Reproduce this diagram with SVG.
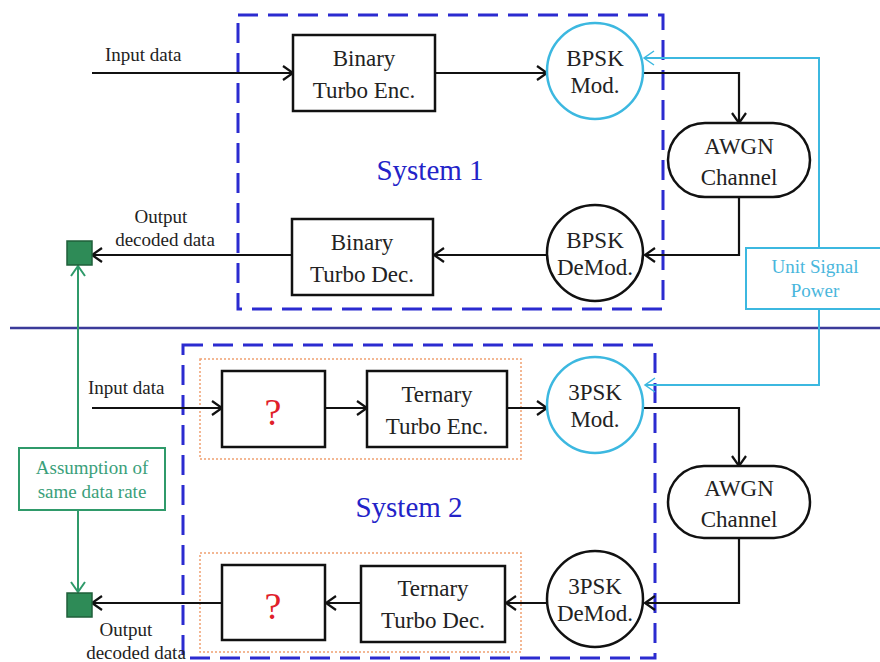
<svg xmlns="http://www.w3.org/2000/svg" width="880" height="662" viewBox="0 0 880 662" font-family="'Liberation Serif', 'Times New Roman', serif">
<defs>
<marker id="ah" markerUnits="userSpaceOnUse" markerWidth="14" markerHeight="16" refX="11" refY="8" orient="auto">
<path d="M1,1 L11,8 L1,15" fill="none" stroke="#111" stroke-width="2.2"/>
</marker>
<marker id="ahc" markerUnits="userSpaceOnUse" markerWidth="14" markerHeight="16" refX="11" refY="8" orient="auto">
<path d="M1,1 L11,8 L1,15" fill="none" stroke="#3cb8e0" stroke-width="1.5"/>
</marker>
<marker id="ahg" markerUnits="userSpaceOnUse" markerWidth="14" markerHeight="16" refX="11" refY="8" orient="auto">
<path d="M1,1 L11,8 L1,15" fill="none" stroke="#2f9a6a" stroke-width="2"/>
</marker>
</defs>
<style>
text{font-family:'Liberation Serif','Times New Roman',serif;fill:#222;}
.n{font-size:23px;text-anchor:middle;}
.s{font-size:19px;}
.sys{font-size:29px;fill:#2323c8;text-anchor:middle;}
.box{fill:#fff;stroke:#111;stroke-width:2.5;}
.circ{fill:#fff;stroke:#111;stroke-width:2.5;}
.circc{fill:#fff;stroke:#3cb8e0;stroke-width:2.5;}
.dash{fill:none;stroke:#2b2bd0;stroke-width:3;stroke-dasharray:20 10;}
.dot{fill:none;stroke:#f0a070;stroke-width:1.5;stroke-dasharray:2 2;}
.line{fill:none;stroke:#111;stroke-width:2.2;}
.cy{fill:none;stroke:#3cb8e0;stroke-width:2;}
.gr{fill:none;stroke:#2f9a6a;stroke-width:2;}
.q{font-size:38px;fill:#e0202a;text-anchor:middle;}
</style>
<rect width="880" height="662" fill="#fff"/>

<g id="system1-frame"><rect class="dash" x="238" y="15" width="425" height="294"/></g>
<g id="system2-frame"><rect class="dash" x="183" y="345" width="472" height="313"/></g>
<g id="orange-enc"><rect class="dot" x="200" y="359" width="321" height="100"/></g>
<g id="orange-dec"><rect class="dot" x="200" y="553" width="321" height="99"/></g>
<g id="divider"><line x1="10" y1="328" x2="880" y2="328" stroke="#3b3b9a" stroke-width="2.5"/></g>

<g id="connectors">
<line class="line" x1="92" y1="73" x2="293" y2="73" marker-end="url(#ah)"/>
<line class="line" x1="435" y1="73" x2="547" y2="73" marker-end="url(#ah)"/>
<polyline class="line" points="643,73 739,73 739,123" marker-end="url(#ah)"/>
<polyline class="line" points="739,197 739,255 645,255" marker-end="url(#ah)"/>
<line class="line" x1="547" y1="255" x2="434" y2="255" marker-end="url(#ah)"/>
<line class="line" x1="292" y1="255" x2="92" y2="255" marker-end="url(#ah)"/>
<line class="line" x1="92" y1="408" x2="222" y2="408" marker-end="url(#ah)"/>
<line class="line" x1="325" y1="408" x2="367" y2="408" marker-end="url(#ah)"/>
<line class="line" x1="507" y1="408" x2="547" y2="408" marker-end="url(#ah)"/>
<polyline class="line" points="643,408 739,408 739,466" marker-end="url(#ah)"/>
<polyline class="line" points="739,538 739,603 645,603" marker-end="url(#ah)"/>
<line class="line" x1="547" y1="603" x2="506" y2="603" marker-end="url(#ah)"/>
<line class="line" x1="361" y1="603" x2="326" y2="603" marker-end="url(#ah)"/>
<line class="line" x1="222" y1="603" x2="92" y2="603" marker-end="url(#ah)"/>
<polyline class="cy" points="819,248 819,58 644,58" marker-end="url(#ahc)"/>
<polyline class="cy" points="819,309 819,385 645,385" marker-end="url(#ahc)"/>
<line class="gr" x1="78" y1="448" x2="78" y2="266" marker-end="url(#ahg)"/>
<line class="gr" x1="78" y1="510" x2="78" y2="592" marker-end="url(#ahg)"/>
</g>

<g id="input1"><text class="s" x="105" y="61">Input data</text></g>
<g id="bin-enc"><rect class="box" x="293" y="35" width="142" height="76"/><text class="n" x="364" y="66">Binary</text><text class="n" x="364" y="98">Turbo Enc.</text></g>
<g id="bpsk-mod"><circle class="circc" cx="595" cy="71" r="48"/><text class="n" x="595" y="66">BPSK</text><text class="n" x="595" y="93">Mod.</text></g>
<g id="awgn1"><rect class="box" x="668" y="123" width="142" height="74" rx="37"/><text class="n" x="739" y="154">AWGN</text><text class="n" x="739" y="185">Channel</text></g>
<g id="bpsk-demod"><circle class="circ" cx="595" cy="253" r="48"/><text class="n" x="595" y="248">BPSK</text><text class="n" x="595" y="275">DeMod.</text></g>
<g id="bin-dec"><rect class="box" x="292" y="219" width="141" height="76"/><text class="n" x="362" y="250">Binary</text><text class="n" x="362" y="282">Turbo Dec.</text></g>
<g id="out1"><rect x="67" y="241" width="25" height="24" fill="#2e8b57" stroke="#1f5f3a" stroke-width="1.5"/></g>
<g id="out1-label"><text class="s" x="161" y="223" text-anchor="middle">Output</text><text class="s" x="165" y="246" text-anchor="middle">decoded data</text></g>
<g id="sys1"><text class="sys" x="430" y="180">System 1</text></g>

<g id="usp"><rect x="746" y="248" width="136" height="61" fill="#fff" stroke="#3cb8e0" stroke-width="2"/><text class="s" x="815" y="273" text-anchor="middle" style="fill:#49b6dc">Unit Signal</text><text class="s" x="815" y="297" text-anchor="middle" style="fill:#49b6dc">Power</text></g>

<g id="input2"><text class="s" x="88" y="394">Input data</text></g>
<g id="q-enc"><rect class="box" x="222" y="371" width="103" height="76"/><text class="q" x="273" y="425">?</text></g>
<g id="ter-enc"><rect class="box" x="367" y="371" width="140" height="76"/><text class="n" x="437" y="402">Ternary</text><text class="n" x="437" y="434">Turbo Enc.</text></g>
<g id="psk3-mod"><circle class="circc" cx="595" cy="405" r="48"/><text class="n" x="595" y="400">3PSK</text><text class="n" x="595" y="427">Mod.</text></g>
<g id="awgn2"><rect class="box" x="668" y="466" width="142" height="72" rx="36"/><text class="n" x="739" y="496">AWGN</text><text class="n" x="739" y="527">Channel</text></g>
<g id="psk3-demod"><circle class="circ" cx="595" cy="599" r="48"/><text class="n" x="595" y="594">3PSK</text><text class="n" x="595" y="621">DeMod.</text></g>
<g id="ter-dec"><rect class="box" x="361" y="566" width="144" height="76"/><text class="n" x="433" y="596">Ternary</text><text class="n" x="433" y="628">Turbo Dec.</text></g>
<g id="q-dec"><rect class="box" x="222" y="565" width="103" height="75"/><text class="q" x="273" y="619">?</text></g>
<g id="out2"><rect x="67" y="593" width="25" height="24" fill="#2e8b57" stroke="#1f5f3a" stroke-width="1.5"/></g>
<g id="out2-label"><text class="s" x="126" y="636" text-anchor="middle">Output</text><text class="s" x="136" y="659" text-anchor="middle">decoded data</text></g>
<g id="sys2"><text class="sys" x="409" y="517">System 2</text></g>

<g id="assume"><rect x="19" y="448" width="146" height="62" fill="#fff" stroke="#2f9a6a" stroke-width="2"/><text class="s" x="92" y="474" text-anchor="middle" style="fill:#3aa07a">Assumption of</text><text class="s" x="92" y="498" text-anchor="middle" style="fill:#3aa07a">same data rate</text></g>
</svg>
